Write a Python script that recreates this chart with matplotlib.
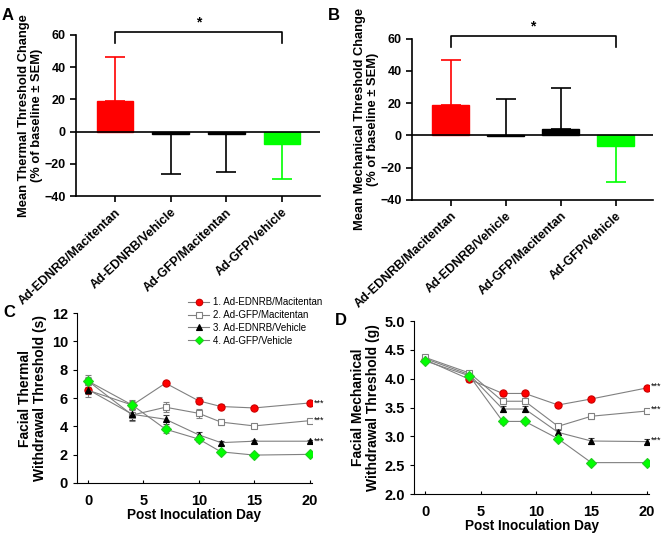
import numpy as np
import matplotlib.pyplot as plt

plt.rcParams['font.family'] = ['Liberation Sans', 'DejaVu Sans']

groups = ["Ad-EDNRB/Macitentan", "Ad-EDNRB/Vehicle", "Ad-GFP/Macitentan", "Ad-GFP/Vehicle"]
bar_colors = ["#ff0000", "#000000", "#000000", "#00ff00"]

thermal_change = [19, -1.5, -1.5, -8]
thermal_sem = [27.5, 25, 23.5, 21.5]
thermal_dir = [1, -1, -1, -1]

mech_change = [19, -0.5, 4, -6.5]
mech_sem = [27.5, 23, 25.5, 22.5]
mech_dir = [1, 1, 1, -1]

series_names = ["1. Ad-EDNRB/Macitentan", "2. Ad-GFP/Macitentan",
                "3. Ad-EDNRB/Vehicle", "4. Ad-GFP/Vehicle"]

days_c = [0, 4, 7, 10, 12, 15, 20]
thermal_1 = [6.55, 5.5, 7.05, 5.8, 5.4, 5.3, 5.65]
thermal_2 = [7.2, 4.8, 5.35, 4.92, 4.3, 4.03, 4.4]
thermal_3 = [6.6, 4.85, 4.5, 3.4, 2.85, 2.95, 2.95]
thermal_4 = [7.2, 5.5, 3.8, 3.1, 2.2, 1.97, 2.02]
thermal_err1 = [0.45, 0.35, 0.15, 0.25, 0.15, 0.15, 0.12]
thermal_err2 = [0.45, 0.4, 0.35, 0.3, 0.2, 0.15, 0.15]
thermal_err3 = [0.35, 0.4, 0.3, 0.2, 0.15, 0.12, 0.12]
thermal_err4 = [0.3, 0.3, 0.25, 0.2, 0.12, 0.12, 0.1]

days_d = [0, 4, 7, 9, 12, 15, 20]
mech_1 = [4.33, 3.99, 3.745, 3.745, 3.545, 3.65, 3.84]
mech_2 = [4.37, 4.1, 3.61, 3.61, 3.175, 3.35, 3.44]
mech_3 = [4.35, 4.07, 3.475, 3.475, 3.07, 2.92, 2.91]
mech_4 = [4.31, 4.05, 3.26, 3.26, 2.96, 2.545, 2.545]
mech_err1 = [0.03, 0.04, 0.05, 0.05, 0.04, 0.04, 0.03]
mech_err2 = [0.03, 0.04, 0.05, 0.05, 0.04, 0.04, 0.03]
mech_err3 = [0.03, 0.04, 0.05, 0.05, 0.04, 0.06, 0.04]
mech_err4 = [0.03, 0.04, 0.05, 0.05, 0.03, 0.03, 0.03]

fig = plt.figure(figsize=(6.69, 5.37), dpi=100)


def bar_panel(ax, vals, sems, dirs, ylabel):
    x = np.arange(len(vals))
    ax.bar(x, vals, width=0.66, color=bar_colors, edgecolor=bar_colors, linewidth=1, zorder=2)
    for xi, v, s, d, c in zip(x, vals, sems, dirs, bar_colors):
        yerr = [[0], [s]] if d > 0 else [[s], [0]]
        ax.errorbar(xi, v, yerr=yerr, color=c, capsize=7.5, elinewidth=1.2,
                    capthick=1.2, zorder=1)
    ax.axhline(0, color='black', lw=1.2, zorder=3)
    ax.set_xlim(-0.7, 3.68)
    ax.set_ylim(-40, 60)
    ax.set_yticks([-40, -20, 0, 20, 40, 60])
    ax.set_xticks(x)
    ax.set_xticklabels(groups, rotation=43, ha='right', rotation_mode='anchor',
                       fontsize=8.3, fontweight='bold')
    ax.set_ylabel(ylabel, fontsize=9.3, fontweight='bold', labelpad=1, linespacing=1.1)
    for s in ['top', 'right']:
        ax.spines[s].set_visible(False)
    ax.spines['left'].set_linewidth(1.2)
    ax.spines['bottom'].set_linewidth(1.2)
    ax.tick_params(width=1.2, length=4, labelsize=9)
    for lab in ax.get_yticklabels():
        lab.set_fontweight('bold')
    # significance bracket
    ax.plot([0, 0, 3, 3], [55, 61.5, 61.5, 55], color='black', lw=1.2, clip_on=False)
    ax.text(1.5, 63.5, '*', ha='center', va='bottom', fontsize=10, fontweight='bold')


axA = fig.add_axes([0.1136, 0.635, 0.3644, 0.30])
bar_panel(axA, thermal_change, thermal_sem, thermal_dir,
          "Mean Thermal Threshold Change\n(% of baseline \u00b1 SEM)")

axB = fig.add_axes([0.616, 0.628, 0.360, 0.30])
bar_panel(axB, mech_change, mech_sem, mech_dir,
          "Mean Mechanical Threshold Change\n(% of baseline \u00b1 SEM)")

styles = [
    dict(marker='o', mfc='#ff0000', mec='#cc0000', ms=5.2),
    dict(marker='s', mfc='white', mec='#808080', ms=4.6),
    dict(marker='^', mfc='black', mec='black', ms=5),
    dict(marker='D', mfc='#00ff00', mec='#22cc22', ms=4.6),
]
err_colors = ['#808080', '#808080', '#404040', '#808080']


def line_panel(ax, days, ys, errs, ylabel, ylim, yticks, star_y):
    handles = []
    for y, e, st, ec, name in zip(ys, errs, styles, err_colors, series_names):
        ax.errorbar(days, y, yerr=e, fmt='none', ecolor=ec, elinewidth=0.8,
                    capsize=2.5, capthick=0.8, zorder=2)
        h, = ax.plot(days, y, color='#808080', lw=0.8, mew=0.8, zorder=3, label=name, **st)
        handles.append(h)
    ax.set_xlim(-1, 20.2)
    ax.set_ylim(*ylim)
    ax.set_yticks(yticks)
    ax.set_xticks([0, 5, 10, 15, 20])
    ax.set_ylabel(ylabel, fontsize=10, fontweight='bold', labelpad=3, linespacing=1.1)
    ax.set_xlabel("Post Inoculation Day", fontsize=9.8, fontweight='bold', labelpad=0)
    for s in ['top', 'right']:
        ax.spines[s].set_visible(False)
    ax.tick_params(labelsize=10.5, width=0.8, length=3)
    ax.tick_params(axis='x', direction='in', length=2, pad=8)
    for lab in ax.get_xticklabels() + ax.get_yticklabels():
        lab.set_fontweight('bold')
    for sy in star_y:
        ax.text(20.35, sy, '***', fontsize=6.5, va='center', ha='left')
    return handles


axC = fig.add_axes([0.115, 0.1006, 0.351, 0.3164])
hC = line_panel(axC, days_c, [thermal_1, thermal_2, thermal_3, thermal_4],
                [thermal_err1, thermal_err2, thermal_err3, thermal_err4],
                "Facial Thermal\nWithdrawal Threshold (s)", (0, 12), [0, 2, 4, 6, 8, 10, 12],
                [thermal_1[-1], thermal_2[-1], thermal_3[-1]])
fig.legend(handles=hC, loc='upper left', bbox_to_anchor=(188 / 669, 1 - 297 / 537),
           frameon=False, fontsize=7, handlelength=2.2, handletextpad=0.4,
           labelspacing=0.3, borderpad=0, borderaxespad=0, markerscale=0.9)

axD = fig.add_axes([0.619, 0.080, 0.351, 0.322])
line_panel(axD, days_d, [mech_1, mech_2, mech_3, mech_4],
           [mech_err1, mech_err2, mech_err3, mech_err4],
           "Facial Mechanical\nWithdrawal Threshold (g)", (2.0, 5.0),
           [2.0, 2.5, 3.0, 3.5, 4.0, 4.5, 5.0],
           [mech_1[-1] + 0.03, mech_2[-1] + 0.03, mech_3[-1] + 0.03])
axD.yaxis.set_major_formatter(plt.FormatStrFormatter('%.1f'))

for lab, x, y in [('A', 2 / 669, 8 / 537), ('B', 328 / 669, 8 / 537),
                  ('C', 3 / 669, 305 / 537), ('D', 335 / 669, 313 / 537)]:
    fig.text(x, 1 - y, lab, fontsize=12, fontweight='bold', va='top', ha='left')

fig.savefig("out.png", dpi=100)
